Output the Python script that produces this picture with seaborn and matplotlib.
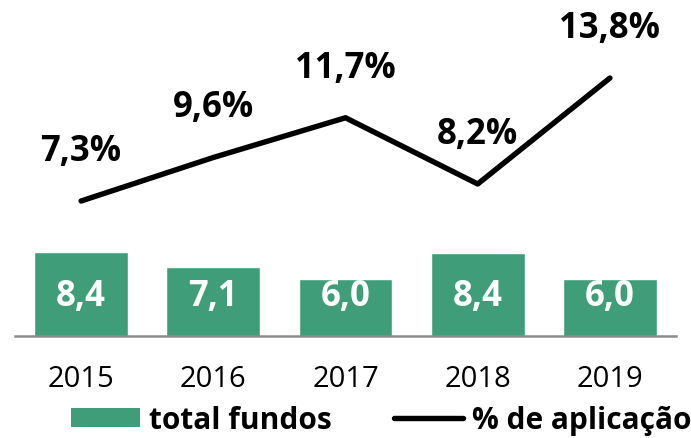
import matplotlib
matplotlib.use("Agg")
from matplotlib import pyplot as plt
from matplotlib.patches import Patch
from matplotlib.lines import Line2D
import matplotlib.transforms as mtransforms
import numpy as np
import seaborn as sns

# data
years = ['2015', '2016', '2017', '2018', '2019']
total_fundos = [8.4, 7.1, 6.0, 8.3, 6.0]
fundos_labels = ['8,4', '7,1', '6,0', '8,4', '6,0']
pct_aplicacao = [7.3, 9.6, 11.7, 8.2, 13.8]
pct_labels = ['7,3%', '9,6%', '11,7%', '8,2%', '13,8%']

green = '#3F9E79'
sns.set_style('white')
plt.rcParams['font.family'] = ['Open Sans', 'DejaVu Sans']
plt.rcParams['text.color'] = 'black'
plt.rcParams['xtick.color'] = 'black'

fig = plt.figure(figsize=(6.91, 4.39), dpi=100)
ax = fig.add_axes([15 / 691, (439 - 337) / 439, 661 / 691, 317 / 439])

sns.barplot(x=years, y=total_fundos, color=green, saturation=1,
            width=0.71, ax=ax)
ax.set_xlim(-0.5, len(years) - 0.5)
ax.set_ylim(0.93, 29.1)

# bar labels sit at a fixed height above the base
trans = mtransforms.blended_transform_factory(ax.transData, ax.transAxes)
for i, lab in enumerate(fundos_labels):
    ax.text(i, 40 / 317, lab, transform=trans, ha='center', va='center',
            color='white', fontsize=25, fontweight='bold')

ax2 = ax.twinx()
pos = np.arange(len(years))
sns.lineplot(x=pos, y=pct_aplicacao, color='black', linewidth=3.9, ax=ax2)
ax2.set_ylim(0.165, 16.92)
for i, (v, lab) in enumerate(zip(pct_aplicacao, pct_labels)):
    ax2.annotate(lab, (i, v), xytext=(0, 36), textcoords='offset points',
                 ha='center', va='center', fontsize=25, fontweight='bold',
                 color='black')

for a in (ax, ax2):
    for s in ['top', 'left', 'right', 'bottom']:
        a.spines[s].set_visible(False)
    a.set_yticks([])
    a.set_ylabel('')
ax.spines['bottom'].set_visible(True)
ax.spines['bottom'].set_color('#8C8C8C')
ax.spines['bottom'].set_linewidth(1.8)
ax.tick_params(axis='x', length=0, pad=20, labelsize=21, labelcolor='black')
ax.set_xlabel('')

handles = [Patch(facecolor=green, edgecolor='none'),
           Line2D([0], [0], color='black', linewidth=3.9)]
fig.legend(handles, ['total fundos', '% de aplicação'], loc='center',
           bbox_to_anchor=(381 / 691, 1 - 421 / 439), ncol=2, frameon=False,
           prop={'weight': 'bold', 'size': 21.5}, handlelength=2.3,
           handleheight=0.6, handletextpad=0.3, columnspacing=2.1,
           borderpad=0, borderaxespad=0)

fig.savefig('out.png', dpi=100)
